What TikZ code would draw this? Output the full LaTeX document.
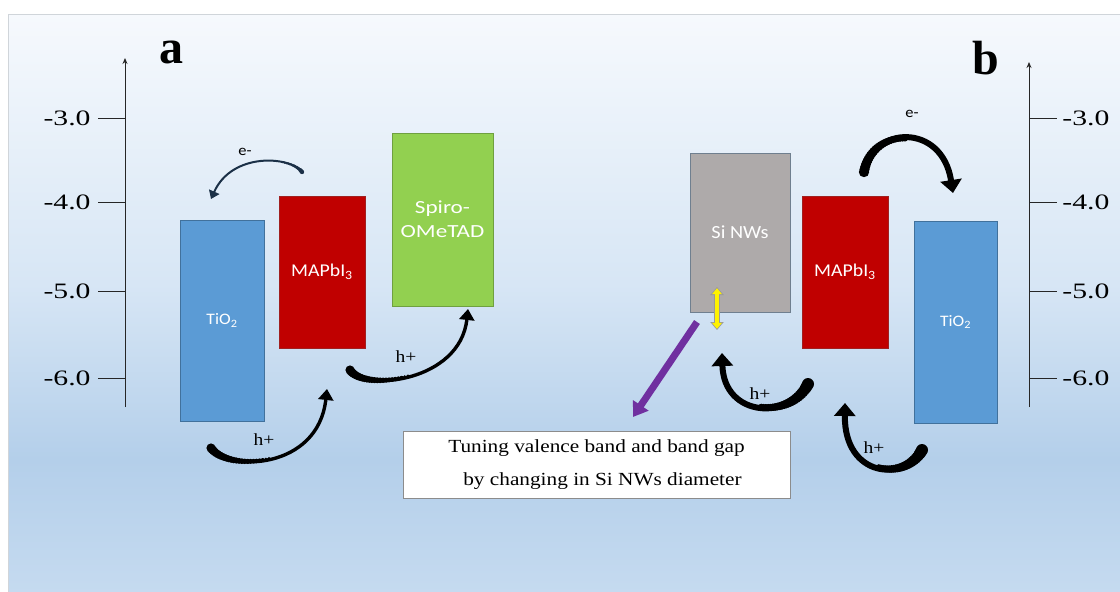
\documentclass[tikz,border=0pt]{standalone}
\usepackage{fontspec}
\setmainfont{Liberation Serif}
\newfontfamily\axisfont[FakeStretch=1.35]{Liberation Serif}
\newfontfamily\boxserif[FakeStretch=1.15]{Liberation Serif}
\newfontfamily\calib[FakeStretch=1.1]{Carlito}
\newfontfamily\calibw[FakeStretch=1.25]{Carlito}
\usetikzlibrary{arrows.meta}
\definecolor{bgtop}{HTML}{F6F9FD}
\definecolor{bgmid}{HTML}{D7E6F5}
\definecolor{bgdark}{HTML}{B4CFEA}
\definecolor{bgbot}{HTML}{C6DBF0}
\definecolor{framegray}{HTML}{D0D5DA}
\definecolor{tiblue}{HTML}{5B9BD5}
\definecolor{tiborder}{HTML}{41719C}
\definecolor{mapred}{HTML}{C00000}
\definecolor{mapborder}{HTML}{A02020}
\definecolor{spgreen}{HTML}{92D050}
\definecolor{spborder}{HTML}{6FA040}
\definecolor{sigray}{HTML}{AEAAAA}
\definecolor{siborder}{HTML}{6F7F8F}
\definecolor{purp}{HTML}{7030A0}
\definecolor{navy}{HTML}{1B3047}
\pgfdeclareverticalshading{bgshade}{100bp}{color(0bp)=(bgbot); color(25bp)=(bgbot); color(37bp)=(bgdark); color(52bp)=(bgmid); color(75bp)=(bgtop); color(100bp)=(bgtop)}
% tapered tail: #1 colour, #2 start, #3 c1, #4 c2, #5 end, #6 r at start, #7 r at tmax, #8 tmax
\newcommand\tapertail[8]{%
  \foreach \tt in {0,0.02,...,#8}{%
    \pgfmathsetmacro\rr{#6+(#7-#6)*\tt/#8}%
    \path #2 .. controls #3 and #4 .. #5 coordinate[pos=\tt] (tp);
    \fill[#1] (tp) circle[radius=\rr pt];
  }}
\begin{document}
\begin{tikzpicture}[x=1pt,y=-1pt,
  band/.style={rectangle, inner sep=0pt, line width=0.8pt, text=white, align=center,
    font=\calib\fontsize{18}{24}\selectfont},
  tibox/.style={band, fill=tiblue, draw=tiborder, font=\calib\fontsize{16}{20}\selectfont},
  mapbox/.style={band, fill=mapred, draw=mapborder},
  spbox/.style={band, fill=spgreen, draw=spborder, font=\calibw\fontsize{18.5}{24}\selectfont},
  sibox/.style={band, fill=sigray, draw=siborder, font=\calib\fontsize{18.5}{22}\selectfont},
  axislbl/.style={font=\axisfont\fontsize{22}{24}\selectfont, inner sep=0pt},
  panel/.style={font=\bfseries\fontsize{48}{50}\selectfont, inner sep=0pt},
  hlbl/.style={font=\boxserif\fontsize{17}{20}\selectfont, inner sep=0pt},
  elbl/.style={font=\calib\fontsize{15}{18}\selectfont, inner sep=0pt},
  axisline/.style={line width=0.9pt, draw=black!85},
  thinarr/.style={draw=navy, line width=2pt, -{Triangle[length=8pt,width=11pt]}},
  midarr/.style={draw=black, line width=3.4pt, -{Triangle[length=11pt,width=15pt]}},
  bigarr/.style={draw=black, line width=6pt, -{Triangle[length=13pt,width=21pt]}},
]
\useasboundingbox (0,0) rectangle (1120,592);
\fill[white] (0,0) rectangle (1120,592);
\path[shading=bgshade, draw=framegray, line width=1pt] (8,14) rectangle (1130,600);

% left axis
\coordinate (laxB) at (125,407);
\coordinate (laxT) at (125,58);
\draw[axisline, -{Stealth[length=6pt,width=5pt]}] (laxB) -- (laxT);
\foreach \y/\l [count=\i] in {118/-3.0, 202/-4.0, 291/-5.0, 378/-6.0}{
  \coordinate (lt\i) at (125,\y);
  \draw[axisline] (lt\i) -- ++(-27,0) node[axislbl, anchor=east, xshift=-7pt] (ll\i) {\l};
}
% right axis
\coordinate (raxB) at (1029,407);
\coordinate (raxT) at (1029,62);
\draw[axisline, -{Stealth[length=6pt,width=5pt]}] (raxB) -- (raxT);
\foreach \y/\l [count=\i] in {118/-3.0, 202/-4.0, 291/-5.0, 378/-6.0}{
  \coordinate (rt\i) at (1029,\y);
  \draw[axisline] (rt\i) -- ++(28,0) node[axislbl, anchor=west, xshift=5pt] (rl\i) {\l};
}

\node[panel] (pa) at (171,52) {a};
\node[panel] (pb) at (986,58) {b};

% left panel bands
\node[tibox, minimum width=84pt, minimum height=201pt] (tiL) at (222,320.5) {TiO\textsubscript{2}};
\node[mapbox, minimum width=86pt, minimum height=152pt] (mapL) at (322,272) {MAPbI\textsubscript{3}};
\node[spbox, minimum width=101pt, minimum height=173pt] (sp) at (442.5,219.5) {Spiro-\\OMeTAD};

% right panel bands
\node[sibox, minimum width=100pt, minimum height=159pt] (si) at (740,232.5) {Si NWs};
\node[mapbox, minimum width=86pt, minimum height=152pt] (mapR) at (845,272) {MAPbI\textsubscript{3}};
\node[tibox, minimum width=83pt, minimum height=202pt] (tiR) at (955.5,322) {TiO\textsubscript{2}};

% note box
\node[draw=black!45, fill=white, line width=0.8pt, minimum width=387pt, minimum height=67pt,
  align=center, font=\boxserif\fontsize{18.5}{33}\selectfont, inner sep=0pt] (note) at (596.5,464.5)
  {Tuning valence band and band gap\\ \hspace*{12pt}by changing in Si NWs diameter};

% left arrows
\coordinate (eLs) at (302,172); \coordinate (eLe) at (211,199);
\draw[thinarr] (eLs) .. controls (290,156) and (232,152) .. (eLe);
\tapertail{navy}{(eLs)}{(290,156)}{(232,152)}{(eLe)}{2.2}{1}{0.3}
\node[elbl] (eLl) at (245,152) {e-};

\coordinate (h1s) at (211,448); \coordinate (h1e) at (327,389);
\draw[midarr] (h1s) .. controls (228,472) and (318,470) .. (h1e);
\tapertail{black}{(h1s)}{(228,472)}{(318,470)}{(h1e)}{4.6}{1.7}{0.5}
\node[hlbl] (h1l) at (264,440) {h+};

\coordinate (h2s) at (350,370); \coordinate (h2e) at (468,309);
\draw[midarr] (h2s) .. controls (364,392) and (460,382) .. (h2e);
\tapertail{black}{(h2s)}{(364,392)}{(460,382)}{(h2e)}{4.6}{1.7}{0.5}
\node[hlbl] (h2l) at (406,357) {h+};

% right arrows
\coordinate (eRs) at (864,172); \coordinate (eRe) at (953,193);
\draw[bigarr] (eRs) .. controls (872,126) and (942,122) .. (eRe);
\tapertail{black}{(eRs)}{(872,126)}{(942,122)}{(eRe)}{5.2}{3}{0.5}
\node[elbl] (eRl) at (912,114) {e-};

\coordinate (h3s) at (808,384); \coordinate (h3e) at (722,353);
\draw[bigarr] (h3s) .. controls (790,420) and (724,418) .. (h3e);
\tapertail{black}{(h3s)}{(790,420)}{(724,418)}{(h3e)}{6}{3}{0.5}
\node[hlbl] (h3l) at (760,394) {h+};

\coordinate (h4s) at (922,450); \coordinate (h4e) at (845,403);
\draw[bigarr] (h4s) .. controls (905,482) and (844,478) .. (h4e);
\tapertail{black}{(h4s)}{(905,482)}{(844,478)}{(h4e)}{6}{3}{0.5}
\node[hlbl] (h4l) at (874,448) {h+};

% yellow double arrow
\coordinate (ya) at (717,287); \coordinate (yb) at (717,330);
\draw[draw=black!40, line width=6pt, {Triangle[length=8pt,width=13pt]}-{Triangle[length=8pt,width=13pt]}] (ya) -- (yb);
\draw[draw=yellow, line width=4pt, {Triangle[length=6pt,width=9.5pt]}-{Triangle[length=6pt,width=9.5pt]}, shorten <=1.2pt, shorten >=1.2pt] (ya) -- (yb);

% purple arrow
\coordinate (pp) at (697,322);
\draw[draw=purp, line width=7pt, -{Triangle[length=14pt,width=18pt]}] (pp) -- (633,417);
\end{tikzpicture}
\end{document}
